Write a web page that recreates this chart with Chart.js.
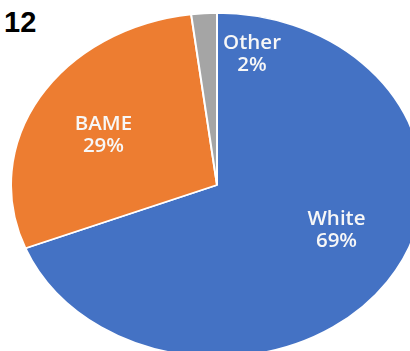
<!DOCTYPE html>
<html>
<head>
<meta charset="utf-8">
<script src="https://cdn.jsdelivr.net/npm/chart.js@4.4.1/dist/chart.umd.min.js"></script>
<style>
  html, body { margin: 0; padding: 0; background: #fff; overflow: hidden; }
  body { width: 410px; height: 351px; position: relative; }
  #num {
    position: absolute; left: 4px; top: 8px;
    font: bold 29px "Liberation Sans", Arial, sans-serif; line-height: 1; color: #000;
  }
  #wrap { position: absolute; left: 10px; top: -22px; width: 414px; height: 414px; }
</style>
</head>
<body>
<div id="num">12</div>
<div id="wrap"><canvas id="pieChart"></canvas></div>
<script>
// ethnicity split (percent)
const groups = ["White", "BAME", "Other"]
const shares = [69, 29, 2]
const colours = ["#4472C4", "#ED7D31", "#A5A5A5"]

// pie is shown as an ellipse, flattened vertically
const yScale = 0.835

// label spot per slice: angle shift from mid-slice (deg) and radius fraction
const labelSpot = [
  { shift: -10.4, r: 0.634 },
  { shift: -2.3, r: 0.626 },
  { shift: 16.1, r: 0.786 },
]

const flatten = {
  id: "flatten",
  beforeDatasetsDraw(chart) {
    const ctx = chart.ctx
    const arc = chart.getDatasetMeta(0).data[0]
    ctx.save()
    ctx.translate(arc.x, arc.y)
    ctx.scale(1, yScale)
    ctx.translate(-arc.x, -arc.y)
  },
  afterDatasetsDraw(chart) {
    chart.ctx.restore()
  },
}

const sliceLabels = {
  id: "sliceLabels",
  afterDraw(chart) {
    const ctx = chart.ctx
    const meta = chart.getDatasetMeta(0)
    ctx.save()
    ctx.fillStyle = "#f7f7f7"
    ctx.font = '600 20.5px "Open Sans", sans-serif'
    ctx.textAlign = "center"
    ctx.textBaseline = "alphabetic"
    meta.data.forEach(function (arc, i) {
      const spot = labelSpot[i]
      const mid = (arc.startAngle + arc.endAngle) / 2 + (spot.shift * Math.PI) / 180
      const r = arc.outerRadius * spot.r
      const x = arc.x + Math.cos(mid) * r
      const y = arc.y + Math.sin(mid) * r * yScale
      ctx.fillText(groups[i], x, y - 4)
      ctx.fillText(shares[i] + "%", x, y + 18)
    })
    ctx.restore()
  },
}

const ctx = document.getElementById("pieChart").getContext("2d")
new Chart(ctx, {
  type: "pie",
  data: {
    labels: groups,
    datasets: [
      {
        data: shares,
        backgroundColor: colours,
        borderColor: "#fff",
        borderWidth: 2,
        hoverOffset: 0,
      },
    ],
  },
  options: {
    responsive: true,
    maintainAspectRatio: false,
    animation: false,
    events: [],
    layout: { padding: 0 },
    plugins: {
      legend: { display: false },
      tooltip: { enabled: false },
    },
  },
  plugins: [flatten, sliceLabels],
})
</script>
</body>
</html>
